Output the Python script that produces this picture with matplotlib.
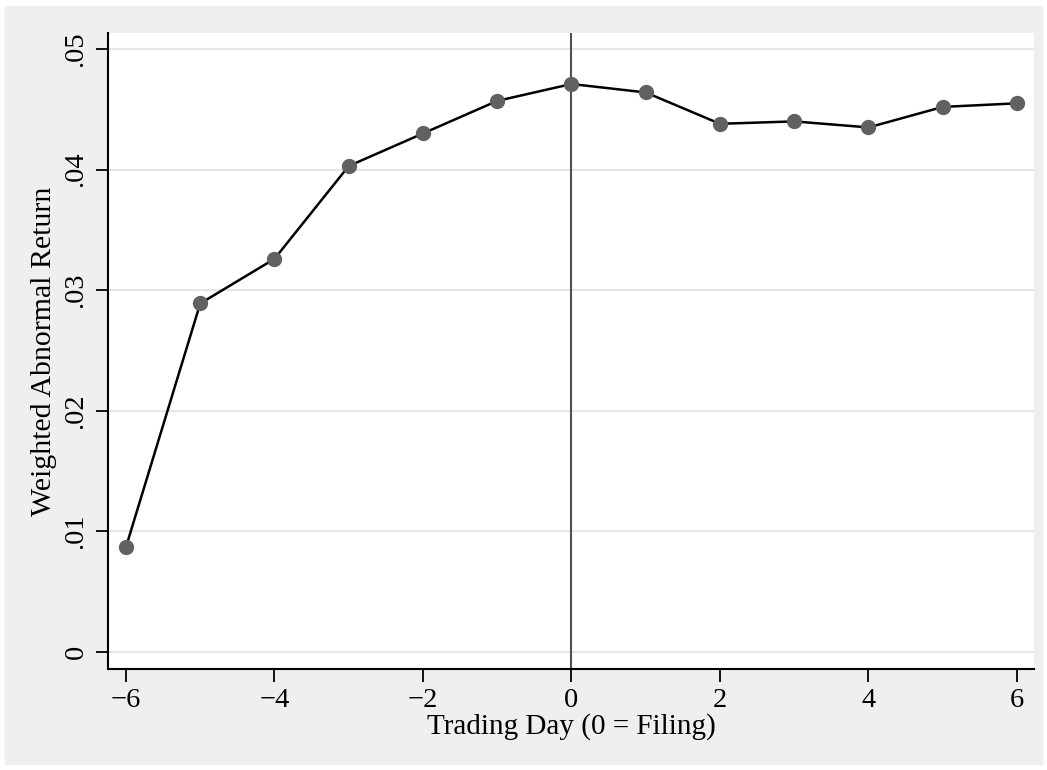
import matplotlib
matplotlib.use("Agg")
import matplotlib.pyplot as plt
from matplotlib.patches import Rectangle

days = [-6, -5, -4, -3, -2, -1, 0, 1, 2, 3, 4, 5, 6]
war = [0.0087, 0.0289, 0.0326, 0.0403, 0.0430, 0.0457, 0.0471,
       0.0464, 0.0438, 0.0440, 0.0435, 0.0452, 0.0455]
yticks = [0, 0.01, 0.02, 0.03, 0.04, 0.05]
ylabels = ["0", ".01", ".02", ".03", ".04", ".05"]
xticks = [-6, -4, -2, 0, 2, 4, 6]

plt.rcParams["font.family"] = ["Liberation Serif", "DejaVu Serif"]
plt.rcParams["axes.unicode_minus"] = True

fig = plt.figure(figsize=(10.47, 7.70), dpi=100)
# outer grey graph region
fig.patches.append(Rectangle((5/1047, 6/770), 1037/1047, 758/770,
                             transform=fig.transFigure, color="#efefef", zorder=-5))

ax = fig.add_axes([108/1047, 1 - 669/770, 926/1047, 636/770], zorder=2)
ax.set_facecolor("white")

ax.axvline(0, color="#505050", lw=1.5, zorder=2)
ax.plot(days, war, color="black", lw=1.8, marker="o", ms=10,
        mfc="#616161", mec="#616161", zorder=3)

ax.set_xlim(-6.242, 6.229)
ax.set_ylim(-0.00141, 0.05133)
ax.set_xticks(xticks)
ax.set_xticklabels([str(t).replace("-", "\u2212") for t in xticks])
ax.set_yticks(yticks)
ax.set_yticklabels(ylabels, rotation=90, va="center")
ax.grid(axis="y", color="#e6e6e6", lw=1.5)
ax.set_axisbelow(True)

for s in ["top", "right"]:
    ax.spines[s].set_visible(False)
for s in ["left", "bottom"]:
    ax.spines[s].set_linewidth(1.5)
ax.tick_params(direction="out", length=9, width=1.3, labelsize=20.5, pad=5)

ax.set_xlabel("Trading Day (0 = Filing)", fontsize=21, labelpad=0)
ax.set_ylabel("Weighted Abnormal Return", fontsize=21.5, labelpad=5)

fig.savefig("out.png", dpi=100)
